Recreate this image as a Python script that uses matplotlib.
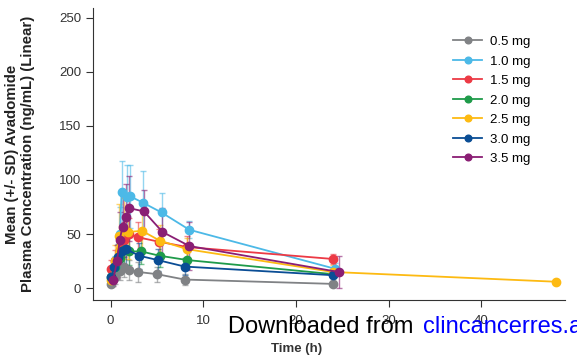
import numpy as np
import matplotlib.pyplot as plt

plt.rcParams['font.family'] = ['Liberation Sans', 'DejaVu Sans']

# Mean (+/- SD) concentrations per dose cohort
doses = ['0.5 mg', '1.0 mg', '1.5 mg', '2.0 mg', '2.5 mg', '3.0 mg', '3.5 mg']
colors = ['#808285', '#4CB9E7', '#EC3A45', '#1F9B4A', '#FDBA12', '#0A4D95', '#8A1E74']

t_05 = [0, 0.5, 1, 1.5, 2, 3, 5, 8, 24]
y_05 = [4, 10, 16, 20, 17, 15, 13, 8, 4]
sd_05 = [2, 6, 8, 10, 9, 9, 7, 5, 2]

t_10 = [0.5, 1, 1.2, 1.8, 2.1, 3.5, 5.5, 8.5, 24.2]
y_10 = [20, 50, 89, 84, 85, 79, 70, 54, 18]
sd_10 = [10, 25, 29, 30, 29, 29, 18, 8, 5]

t_15 = [0, 0.5, 1, 1.5, 2, 3, 5.2, 8.3, 24]
y_15 = [18, 25, 35, 45, 50, 47, 43, 38, 27]
sd_15 = [8, 10, 14, 16, 15, 14, 12, 10, 5]

t_20 = [0, 0.5, 1, 1.5, 2, 3.3, 5.3, 8.3, 24]
y_20 = [10, 20, 28, 35, 34, 34, 30, 26, 13]
sd_20 = [6, 9, 12, 14, 13, 12, 10, 8, 4]

t_25 = [0, 0.5, 0.9, 1.5, 1.9, 3.4, 5.3, 8.3, 24, 48]
y_25 = [8, 25, 48, 55, 52, 53, 44, 36, 15, 6]
sd_25 = [5, 15, 30, 28, 25, 18, 14, 10, 6, 0]

t_30 = [0.07, 0.4, 0.8, 1.2, 1.7, 3.1, 5.1, 8, 24]
y_30 = [10, 20, 29, 34, 36, 30, 26, 20, 12]
sd_30 = [5, 8, 12, 14, 15, 12, 10, 8, 5]

t_35 = [0.3, 0.7, 1, 1.3, 1.7, 2, 3.6, 5.6, 8.5, 24.6]
y_35 = [8, 25, 45, 57, 66, 74, 71, 52, 39, 15]
sd_35 = [6, 15, 25, 28, 30, 30, 20, 22, 22, 15]

series = [(t_05, y_05, sd_05), (t_10, y_10, sd_10), (t_15, y_15, sd_15),
          (t_20, y_20, sd_20), (t_25, y_25, sd_25), (t_30, y_30, sd_30),
          (t_35, y_35, sd_35)]

fig = plt.figure(figsize=(5.77, 3.59), dpi=100)
ax = fig.add_axes([0.161, 0.164, 0.818, 0.814])

for (t, y, sd), c, lab in zip(series, colors, doses):
    ax.errorbar(t, y, yerr=sd, fmt='none', ecolor=c, elinewidth=1,
                capsize=2, alpha=0.6, zorder=2)
    ax.plot(t, y, '-o', color=c, lw=1.3, ms=6, label=lab, zorder=3)

ax.set_xlim(-1.9, 49)
ax.set_ylim(-11, 259)
ax.set_xticks([0, 10, 20, 30, 40])
ax.set_yticks([0, 50, 100, 150, 200, 250])
for s in ['top', 'right']:
    ax.spines[s].set_visible(False)
for s in ['left', 'bottom']:
    ax.spines[s].set_color('#333333')
ax.tick_params(direction='out', length=5, colors='#333333', labelsize=9.5)
ax.tick_params(axis='x', pad=6)

ax.set_ylabel('Mean (+/- SD) Avadomide\nPlasma Concentration (ng/mL) (Linear)',
              fontsize=10.8, fontweight='bold', color='#222222', labelpad=17)
ax.set_xlabel('Time (h)', fontsize=9.5, fontweight='bold', color='#333333')
ax.xaxis.set_label_coords(0.432, -0.148)

ax.legend(loc='upper right', bbox_to_anchor=(0.953, 0.945), frameon=False,
          fontsize=9.5, labelspacing=0.55, handlelength=2.2, handletextpad=0.6,
          markerscale=0.8)

fig.text(228 / 577, 1 - 333 / 359, 'Downloaded from ', fontsize=17, color='black')
fig.text(423 / 577, 1 - 333 / 359, 'clincancerres.aacrjournals.org', fontsize=17, color='blue')

fig.savefig('out.png', dpi=100)
